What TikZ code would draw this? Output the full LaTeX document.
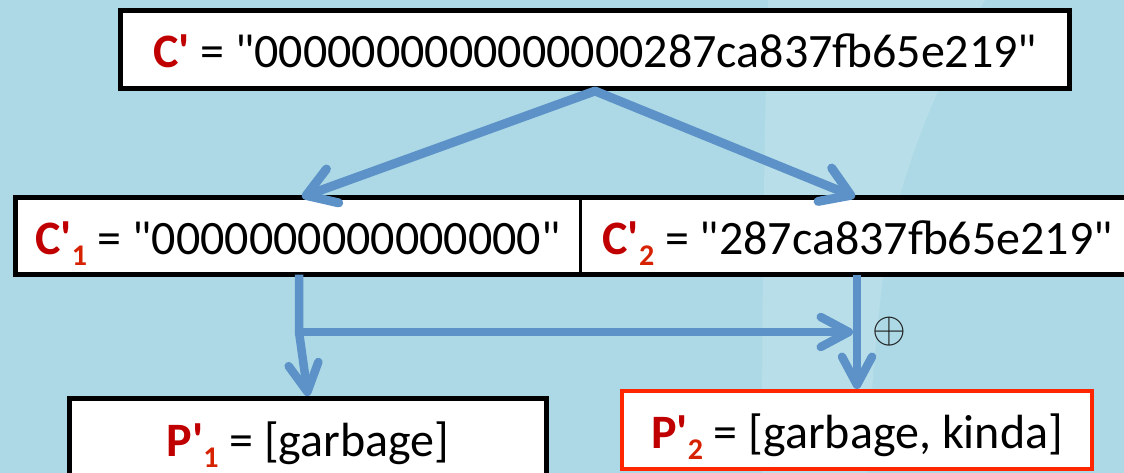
\documentclass[tikz,border=0pt]{standalone}
\usepackage{fontspec}
\setmainfont{Carlito}
\usetikzlibrary{arrows.meta}
\definecolor{bg}{RGB}{173,217,230}
\definecolor{band}{RGB}{184,223,233}
\definecolor{arrowblue}{RGB}{92,146,199}
\definecolor{cred}{RGB}{192,0,0}
\definecolor{csub}{RGB}{214,34,0}
\definecolor{pred}{RGB}{255,38,0}
\font\qreg="Carlito" at 48pt
\font\qbold="Carlito/B" at 48pt
\newcommand{\dq}{{\qreg\char"22}}
\newcommand{\Cp}{{\color{cred}\bfseries C{\qbold\char"27}}}
\newcommand{\Pp}{{\color{cred}\bfseries P{\qbold\char"27}}}
\newcommand{\mysub}[1]{\raisebox{-11pt}{\fontsize{30}{30}\selectfont\bfseries\color{csub}#1}}
\begin{document}
\begin{tikzpicture}[x=1pt,y=-1pt,
  txt/.style={font=\fontsize{48}{56}\selectfont, inner sep=0pt, text height=36pt, text depth=0pt},
  topbox/.style={txt, draw=black, line width=5pt, fill=white, minimum width=949pt, minimum height=78pt},
  cbox/.style={txt, fill=white, outer sep=0pt, minimum height=77pt},
  pbox/.style={txt, fill=white},
  conn/.style={draw=arrowblue, line width=9pt, line cap=round, line join=round, -{Straight Barb[length=28pt,width=36pt,round]}},
  conn2/.style={draw=arrowblue, line width=8.5pt, line cap=butt, line join=round, -{Straight Barb[length=28pt,width=30pt,round]}},
  oplusmark/.style={inner sep=0pt, text=black!90, font=\fontsize{24.88}{26}\selectfont}
  ]
\useasboundingbox (0,0) rectangle (1124,473);
\fill[bg] (0,0) rectangle (1124,473);
\fill[band] (768,0) -- (985,0) .. controls (950,60) and (905,150) .. (885,260) .. controls (875,340) and (869,420) .. (867,473) -- (762,473) .. controls (762,300) and (764,150) .. (768,0) -- cycle;

\node[topbox] (top) at (595,49.5) {\Cp{} = \dq0000000000000000287ca837fb65e219\dq};
\node[cbox, minimum width=564.5pt] (c1) at (297.75,236) {\Cp\mysub{1} = \dq0000000000000000\dq};
\node[cbox, minimum width=555pt] (c2) at (857.5,236) {\Cp\mysub{2} = \dq287ca837fb65e219\dq};
\draw[line width=5pt] (c1.north west) rectangle (c2.south east);
\draw[line width=3pt] (c1.north east) -- (c1.south east);
\node[pbox, draw=black, line width=5pt, minimum width=477pt, minimum height=79.5pt] (p1) at (308,438.25) {\Pp\mysub{1} = [garbage]};
\node[pbox, draw=pred, line width=4pt, minimum width=470pt, minimum height=78pt] (p2) at (857,430) {\Pp\mysub{2} = [garbage, kinda]};

\coordinate (a1) at (302,197);
\coordinate (a2) at (855,197);
\coordinate (j) at (299,332);
\coordinate (h) at (853,332);

\draw[conn] (top.south) -- (a1);
\draw[conn] (top.south) -- (a2);
\draw[conn2] (c1.south -| j) -- (j) -- (p1.north);
\draw[conn2] (j) -- (h);
\draw[conn2] (c2.south -| p2.north) -- (p2.north);
\node[oplusmark] (xor) at (889,332) {\scalebox{1.75}{$\oplus$}};
\end{tikzpicture}
\end{document}
